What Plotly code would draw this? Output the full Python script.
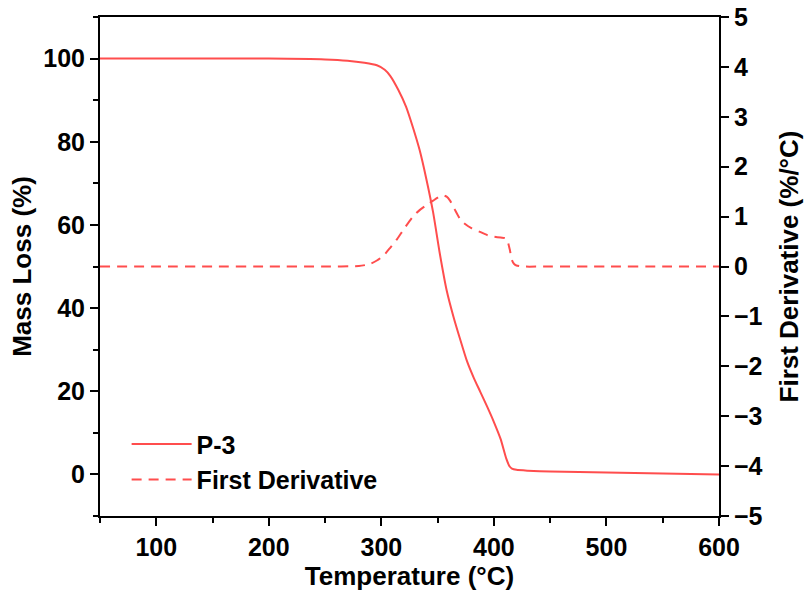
import plotly.graph_objects as go

# Mass loss (TGA) curve
temp_mass = [50, 100, 150, 200, 250, 270, 285, 296, 303, 308, 315, 322, 328, 334, 340, 346, 352, 358, 364, 370, 376, 382, 388, 394, 400, 406, 411, 414, 416, 420, 430, 450, 500, 550, 600]
mass = [100, 100, 100, 100, 99.8, 99.5, 99.0, 98.4, 97.3, 95.8, 92.5, 88.4, 83.5, 78, 71, 63, 53, 44.3, 38, 32.5, 27.3, 23.3, 19.8, 16.3, 12.6, 8.5, 3.8, 1.9, 1.4, 1.1, 0.9, 0.7, 0.45, 0.2, 0.0]

# First derivative curve
temp_deriv = [50, 100, 150, 200, 250, 280, 290, 296, 302, 308, 314, 320, 328, 334, 340, 346, 350, 354, 358, 361, 365, 370, 375, 380, 387, 394, 400, 406, 410, 412, 414, 416, 418, 420, 425, 450, 500, 550, 600]
deriv = [0, 0, 0, 0, 0, 0.01, 0.05, 0.12, 0.22, 0.38, 0.55, 0.75, 1.0, 1.13, 1.23, 1.32, 1.38, 1.43, 1.40, 1.32, 1.15, 0.95, 0.84, 0.77, 0.70, 0.63, 0.60, 0.58, 0.57, 0.52, 0.35, 0.13, 0.05, 0.02, 0.0, 0, 0, 0, 0]

RED = "#ff4d4d"
FONT = "Liberation Sans"

fig = go.Figure()
fig.add_trace(go.Scatter(x=temp_mass, y=mass, mode="lines", name="<b>P-3</b>",
                         line=dict(color=RED, width=2, shape="spline", smoothing=0.6)))
fig.add_trace(go.Scatter(x=temp_deriv, y=deriv, mode="lines", name="<b>First Derivative</b>",
                         yaxis="y2",
                         line=dict(color=RED, width=2, dash="10px,7px", shape="spline", smoothing=0.6)))

tickfont = dict(family=FONT, size=25, color="black")
titlefont = dict(family=FONT, size=26, color="black")

fig.update_layout(
    width=806, height=601,
    margin=dict(l=100, r=87, t=17, b=85),
    paper_bgcolor="white", plot_bgcolor="white",
    font=dict(family=FONT, color="black"),
    showlegend=True,
    legend=dict(x=0.043, y=0.19, xanchor="left", yanchor="top",
                font=dict(family=FONT, size=25, color="black"),
                bgcolor="rgba(0,0,0,0)", itemwidth=60, tracegroupgap=0),
    xaxis=dict(range=[50, 600], tickmode="linear", tick0=0, dtick=100, automargin=False,
               ticks="outside", ticklen=8, tickwidth=2, tickcolor="black",
               showline=True, linecolor="black", linewidth=2, mirror=True,
               showgrid=False, zeroline=False, ticklabeloverflow="allow",
               tickfont=tickfont, tickprefix="<b>", ticksuffix="</b>",
               title=dict(text="<b>Temperature (°C)</b>", font=titlefont, standoff=3),
               minor=dict(dtick=50, tick0=0, ticks="outside", ticklen=5, tickwidth=2, tickcolor="black")),
    yaxis=dict(range=[-10, 110], tickmode="linear", tick0=0, dtick=20, automargin=False,
               ticks="outside", ticklen=8, tickwidth=2, tickcolor="black",
               showline=True, linecolor="black", linewidth=2,
               showgrid=False, zeroline=False, ticklabeloverflow="allow",
               tickfont=tickfont, tickprefix="<b>", ticksuffix="</b>",
               title=dict(text="<b>Mass Loss (%)</b>", font=titlefont, standoff=4),
               minor=dict(dtick=10, tick0=0, ticks="outside", ticklen=5, tickwidth=2, tickcolor="black")),
    yaxis2=dict(range=[-5, 5], overlaying="y", side="right", tickmode="linear", tick0=0, dtick=1,
                automargin=False,
                ticks="outside", ticklen=8, tickwidth=2, tickcolor="black",
                showline=True, linecolor="black", linewidth=2,
                showgrid=False, zeroline=False, ticklabeloverflow="allow",
                tickfont=tickfont, tickprefix="<b>", ticksuffix="</b>",
                title=dict(text="<b>First Derivative (%/°C)</b>", font=titlefont, standoff=18)),
)

fig.write_html("out.html", config={"displayModeBar": False},
               post_script="document.body.style.margin='0';")
